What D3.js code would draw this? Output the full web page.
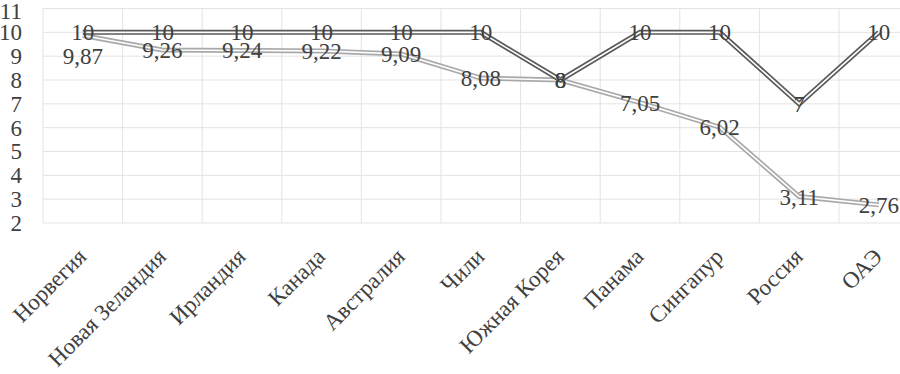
<!DOCTYPE html>
<html>
<head>
<meta charset="utf-8">
<script src="https://cdn.jsdelivr.net/npm/d3@7"></script>
<style>
  html, body { margin: 0; padding: 0; background: #fff; }
  svg { display: block; }
  text { font-family: "Liberation Serif", "Times New Roman", serif; fill: #404040; }
</style>
</head>
<body>
<svg id="chart" width="900" height="374"></svg>
<script>
const categories = ["Норвегия", "Новая Зеландия", "Ирландия", "Канада", "Австралия", "Чили", "Южная Корея", "Панама", "Сингапур", "Россия", "ОАЭ"];
const series1 = [10, 10, 10, 10, 10, 10, 8, 10, 10, 7, 10];
const series2 = [9.87, 9.26, 9.24, 9.22, 9.09, 8.08, 8, 7.05, 6.02, 3.11, 2.76];
const yTicks = [2, 3, 4, 5, 6, 7, 8, 9, 10, 11];

const FONT = '"Liberation Serif", "Times New Roman", serif';
const FS = 23;
const svg = d3.select("#chart");
const left = 43, bandW = 79.6;
const x = d3.scaleBand().domain(categories).range([left, left + bandW * categories.length]).paddingInner(0).paddingOuter(0);
const y = d3.scaleLinear().domain([2, 11]).range([223, 8.5]);
const fmt = v => String(v).replace(".", ",");
const cx = c => x(c) + x.bandwidth() / 2;

// gridlines
const grid = svg.append("g");
grid.selectAll("line.h").data(yTicks).enter().append("line")
  .attr("x1", left).attr("x2", left + bandW * categories.length)
  .attr("y1", d => y(d)).attr("y2", d => y(d))
  .attr("stroke", "#e3e3e3").attr("stroke-width", 1);
const bounds = categories.map(c => x(c)).concat([x(categories[categories.length - 1]) + x.bandwidth()]);
grid.selectAll("line.v").data(bounds).enter().append("line")
  .attr("x1", d => d).attr("x2", d => d)
  .attr("y1", y(11)).attr("y2", y(2))
  .attr("stroke", "#e3e3e3").attr("stroke-width", 1);

// y axis labels
const yAxis = d3.axisLeft(y).tickValues(yTicks).tickSize(0).tickPadding(0).tickFormat(d => d);
const gy = svg.append("g").attr("transform", "translate(22,0)").call(yAxis);
gy.attr("font-family", FONT);
gy.select(".domain").remove();
gy.selectAll("text").attr("font-size", FS).attr("fill", "#404040")
  .attr("font-family", FONT).style("font-family", FONT);
gy.selectAll(".tick").filter(d => d === 11).select("text").attr("dy", "0.42em");

// x axis labels
const xAxis = d3.axisBottom(x).tickSize(0).tickPadding(0);
const gx = svg.append("g").call(xAxis);
gx.attr("font-family", FONT);
gx.select(".domain").remove();
gx.selectAll(".tick").attr("transform", d => `translate(${cx(d) + 5},258)`);
gx.selectAll("text")
  .attr("font-size", FS).attr("fill", "#404040")
  .attr("font-family", FONT).style("font-family", FONT)
  .attr("text-anchor", "end").attr("x", 0).attr("y", 0).attr("dy", 0)
  .attr("transform", "rotate(-45)");

// lines
const line = d3.line().x((d, i) => cx(categories[i])).y(d => y(d));
function doubleLine(data, color) {
  svg.append("path").datum(data).attr("d", line).attr("fill", "none")
    .attr("stroke", color).attr("stroke-width", 5).attr("stroke-linejoin", "miter");
  svg.append("path").datum(data).attr("d", line).attr("fill", "none")
    .attr("stroke", "#fff").attr("stroke-width", 1.6).attr("stroke-linejoin", "miter");
}
doubleLine(series2, "#a9a9a9");
doubleLine(series1, "#5a5a5a");

// data labels
function labels(data, offsets) {
  svg.append("g").selectAll("text").data(data).enter().append("text")
    .attr("x", (d, i) => cx(categories[i]))
    .attr("y", (d, i) => y(d) + (offsets[i] || 0))
    .attr("dy", "0.35em")
    .attr("text-anchor", "middle")
    .attr("font-size", FS)
    .attr("font-family", FONT).style("font-family", FONT)
    .text(d => fmt(d));
}
labels(series2, {0: 21});
labels(series1, {});
</script>
</body>
</html>
